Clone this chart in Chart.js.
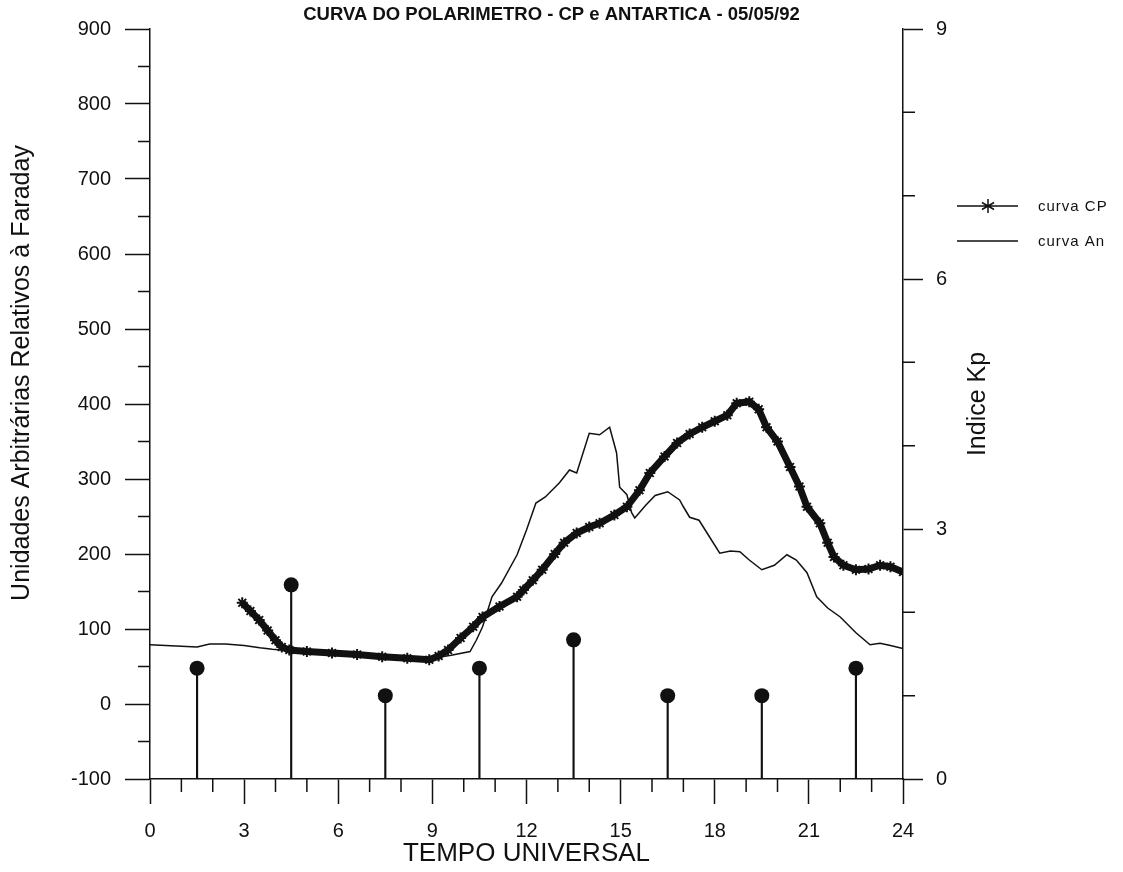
<!DOCTYPE html>
<html>
<head>
<meta charset="utf-8">
<title>Curva do Polarimetro</title>
<script src="https://cdn.jsdelivr.net/npm/chart.js@4.4.1/dist/chart.umd.min.js"></script>
<style>
    html, body { margin: 0; padding: 0; background: #fff; }
    #wrap { width: 1123px; height: 872px; }
</style>
</head>
<body>
<div id="wrap"><canvas id="chart" width="1123" height="872"></canvas></div>
<script>
// =========================
// DATA
// =========================
const cpHours = [2.94, 3.2, 3.48, 3.75, 4.0, 4.2, 4.44, 5.0, 5.8, 6.6, 7.4, 8.2, 8.9, 9.2, 9.5, 9.9,
    10.3, 10.6, 11.14, 11.7, 11.9, 12.2, 12.5, 12.9, 13.2, 13.6, 14.0, 14.33, 14.8, 15.2, 15.6, 15.93,
    16.4, 16.8, 17.2, 17.6, 18.0, 18.4, 18.7, 19.1, 19.4, 19.65, 20.0, 20.4, 20.7, 20.94, 21.35, 21.6,
    21.8, 22.1, 22.5, 22.9, 23.27, 23.6, 24.0];
const cpValues = [135, 124, 112, 98, 85, 76, 72, 70, 68, 66, 63, 61, 59, 64, 72, 88,
    103, 116, 130, 143, 152, 165, 179, 200, 215, 228, 236, 241, 252, 263, 285, 308,
    330, 348, 360, 369, 377, 385, 401, 403, 393, 369, 350, 316, 290, 263, 241, 215,
    196, 185, 179, 180, 185, 183, 176];

const anHours = [0.0, 0.5, 1.0, 1.5, 1.9, 2.4, 3.0, 3.5, 3.9, 4.5, 5.5, 6.5, 7.5, 8.5, 9.0, 9.6,
    10.2, 10.4, 10.6, 10.9, 11.2, 11.7, 12.0, 12.3, 12.6, 13.05, 13.37, 13.6, 14.0, 14.33, 14.65, 14.87,
    14.97, 15.2, 15.35, 15.45, 15.8, 16.1, 16.5, 16.88, 17.0, 17.2, 17.5, 17.8, 18.16, 18.5, 18.8, 19.1,
    19.5, 19.9, 20.3, 20.6, 20.94, 21.25, 21.6, 22.0, 22.5, 22.95, 23.27, 23.6, 24.0];
const anValues = [79, 78, 77, 76, 80, 80, 78, 75, 73, 71, 68, 66, 64, 62, 61, 65,
    70, 85, 103, 143, 161, 199, 232, 268, 276, 295, 312, 308, 361, 359, 369, 335,
    289, 279, 255, 248, 265, 278, 283, 272, 263, 249, 245, 225, 201, 204, 203, 192,
    179, 185, 199, 192, 175, 143, 128, 116, 95, 79, 81, 78, 74];

const kpHours = [1.5, 4.5, 7.5, 10.5, 13.5, 16.5, 19.5, 22.5];
const kpValues = [1.33, 2.33, 1.0, 1.33, 1.67, 1.0, 1.0, 1.33];

const titleText = 'CURVA DO POLARIMETRO - CP e ANTARTICA - 05/05/92';
const xTitle = 'TEMPO UNIVERSAL';
const yTitle = 'Unidades Arbitrárias Relativos à Faraday';
const y2Title = 'Indice Kp';
const legendLabels = ['curva CP', 'curva An'];

const INK = '#111';
const SANS = "'Liberation Sans', Arial, Helvetica, sans-serif";
const NARROW = "'Liberation Sans Narrow', 'Arial Narrow', " + SANS;

const toPoints = (xs, ys) => xs.map((x, i) => ({ x: x, y: ys[i] }));

// =========================
// MINOR TICKS + SIDE TEXT
// =========================
const extrasPlugin = {
    id: 'extras',
    afterDraw(chart) {
        const { ctx, chartArea, scales } = chart;
        const { x, y, y2 } = scales;
        ctx.save();
        ctx.strokeStyle = INK;
        ctx.lineWidth = 1.5;
        ctx.beginPath();
        for (let h = 1; h < 24; h++) {
            if (h % 3 === 0) continue;
            const px = x.getPixelForValue(h);
            ctx.moveTo(px, chartArea.bottom);
            ctx.lineTo(px, chartArea.bottom + 13);
        }
        for (let v = -50; v < 900; v += 100) {
            const py = y.getPixelForValue(v);
            ctx.moveTo(chartArea.left - 12, py);
            ctx.lineTo(chartArea.left, py);
        }
        for (let k = 1; k < 9; k++) {
            if (k % 3 === 0) continue;
            const py = y2.getPixelForValue(k);
            ctx.moveTo(chartArea.right, py);
            ctx.lineTo(chartArea.right + 12, py);
        }
        ctx.stroke();

        // rotated axis titles
        ctx.fillStyle = INK;
        ctx.textAlign = 'center';
        ctx.textBaseline = 'middle';
        ctx.font = '25px ' + SANS;
        ctx.save();
        ctx.translate(22, 373);
        ctx.rotate(-Math.PI / 2);
        ctx.fillText(yTitle, 0, 0);
        ctx.restore();
        ctx.save();
        ctx.translate(978, 404);
        ctx.rotate(-Math.PI / 2);
        ctx.fillText(y2Title, 0, 0);
        ctx.restore();

        // legend
        const lx0 = 957, lx1 = 1018, tx = 1038;
        const rows = [206, 241];
        ctx.lineWidth = 1.5;
        ctx.beginPath();
        rows.forEach(ry => { ctx.moveTo(lx0, ry); ctx.lineTo(lx1, ry); });
        const sx = 988, sy = rows[0], r = 7;
        ctx.moveTo(sx, sy - r); ctx.lineTo(sx, sy + r);
        const d = r * Math.cos(Math.PI / 6), e = r * Math.sin(Math.PI / 6);
        ctx.moveTo(sx - d, sy - e); ctx.lineTo(sx + d, sy + e);
        ctx.moveTo(sx - d, sy + e); ctx.lineTo(sx + d, sy - e);
        ctx.stroke();
        ctx.textAlign = 'left';
        ctx.font = '15px ' + SANS;
        if ('letterSpacing' in ctx) ctx.letterSpacing = '1px';
        legendLabels.forEach((t, i) => ctx.fillText(t, tx, rows[i] + 1));
        ctx.restore();
    }
};

// =========================
// CHART
// =========================
const tickFont = { family: SANS, size: 20 };

new Chart(document.getElementById('chart'), {
    type: 'line',
    data: {
        datasets: [
            {
                label: legendLabels[0],
                data: toPoints(cpHours, cpValues),
                yAxisID: 'y',
                borderColor: INK,
                borderWidth: 7,
                pointStyle: 'star',
                pointRadius: 5.5,
                pointBorderWidth: 2,
                pointBorderColor: INK,
                pointBackgroundColor: INK,
                tension: 0
            },
            {
                label: legendLabels[1],
                data: toPoints(anHours, anValues),
                yAxisID: 'y',
                borderColor: INK,
                borderWidth: 1.5,
                pointRadius: 0,
                tension: 0
            },
            {
                type: 'line',
                label: 'Kp',
                data: toPoints(kpHours, kpValues),
                yAxisID: 'y2',
                showLine: false,
                pointStyle: 'circle',
                pointRadius: 7.5,
                pointBorderWidth: 0,
                pointBackgroundColor: INK
            },
            {
                type: 'bar',
                label: 'Kp stems',
                data: toPoints(kpHours, kpValues),
                yAxisID: 'y2',
                barThickness: 1.5,
                backgroundColor: INK,
                borderWidth: 0
            }
        ]
    },
    options: {
        responsive: false,
        animation: false,
        events: [],
        layout: { padding: { left: 0, right: 20, top: 0, bottom: 0 } },
        plugins: {
            legend: { display: false },
            tooltip: { enabled: false },
            title: {
                display: true,
                text: titleText,
                color: INK,
                font: { family: NARROW, size: 18.5, weight: 'bold', lineHeight: 1 },
                padding: { top: 6, bottom: 4.5 }
            }
        },
        scales: {
            x: {
                type: 'linear',
                min: 0,
                max: 24,
                offset: false,
                afterFit: s => { s.height = 93; },
                ticks: { stepSize: 3, color: INK, font: tickFont, padding: 15, maxRotation: 0 },
                grid: { drawOnChartArea: false, offset: false, tickLength: 25, tickColor: INK, tickWidth: 1.5 },
                border: { display: true, color: INK, width: 1.5 },
                title: {
                    display: true,
                    text: xTitle,
                    color: INK,
                    font: { family: SANS, size: 26, lineHeight: 1 },
                    padding: { top: 0, bottom: 5 }
                }
            },
            y: {
                type: 'linear',
                position: 'left',
                min: -100,
                max: 900,
                afterFit: s => { s.width = 150; },
                ticks: { stepSize: 100, color: INK, font: tickFont, padding: 14 },
                grid: { drawOnChartArea: false, tickLength: 25, tickColor: INK, tickWidth: 1.5 },
                border: { display: true, color: INK, width: 1.5 }
            },
            y2: {
                type: 'linear',
                position: 'right',
                min: 0,
                max: 9,
                afterFit: s => { s.width = 200; },
                ticks: { stepSize: 3, color: INK, font: tickFont, padding: 13 },
                grid: { drawOnChartArea: false, tickLength: 20, tickColor: INK, tickWidth: 1.5 },
                border: { display: true, color: INK, width: 1.5 }
            }
        }
    },
    plugins: [extrasPlugin]
});
</script>
</body>
</html>
